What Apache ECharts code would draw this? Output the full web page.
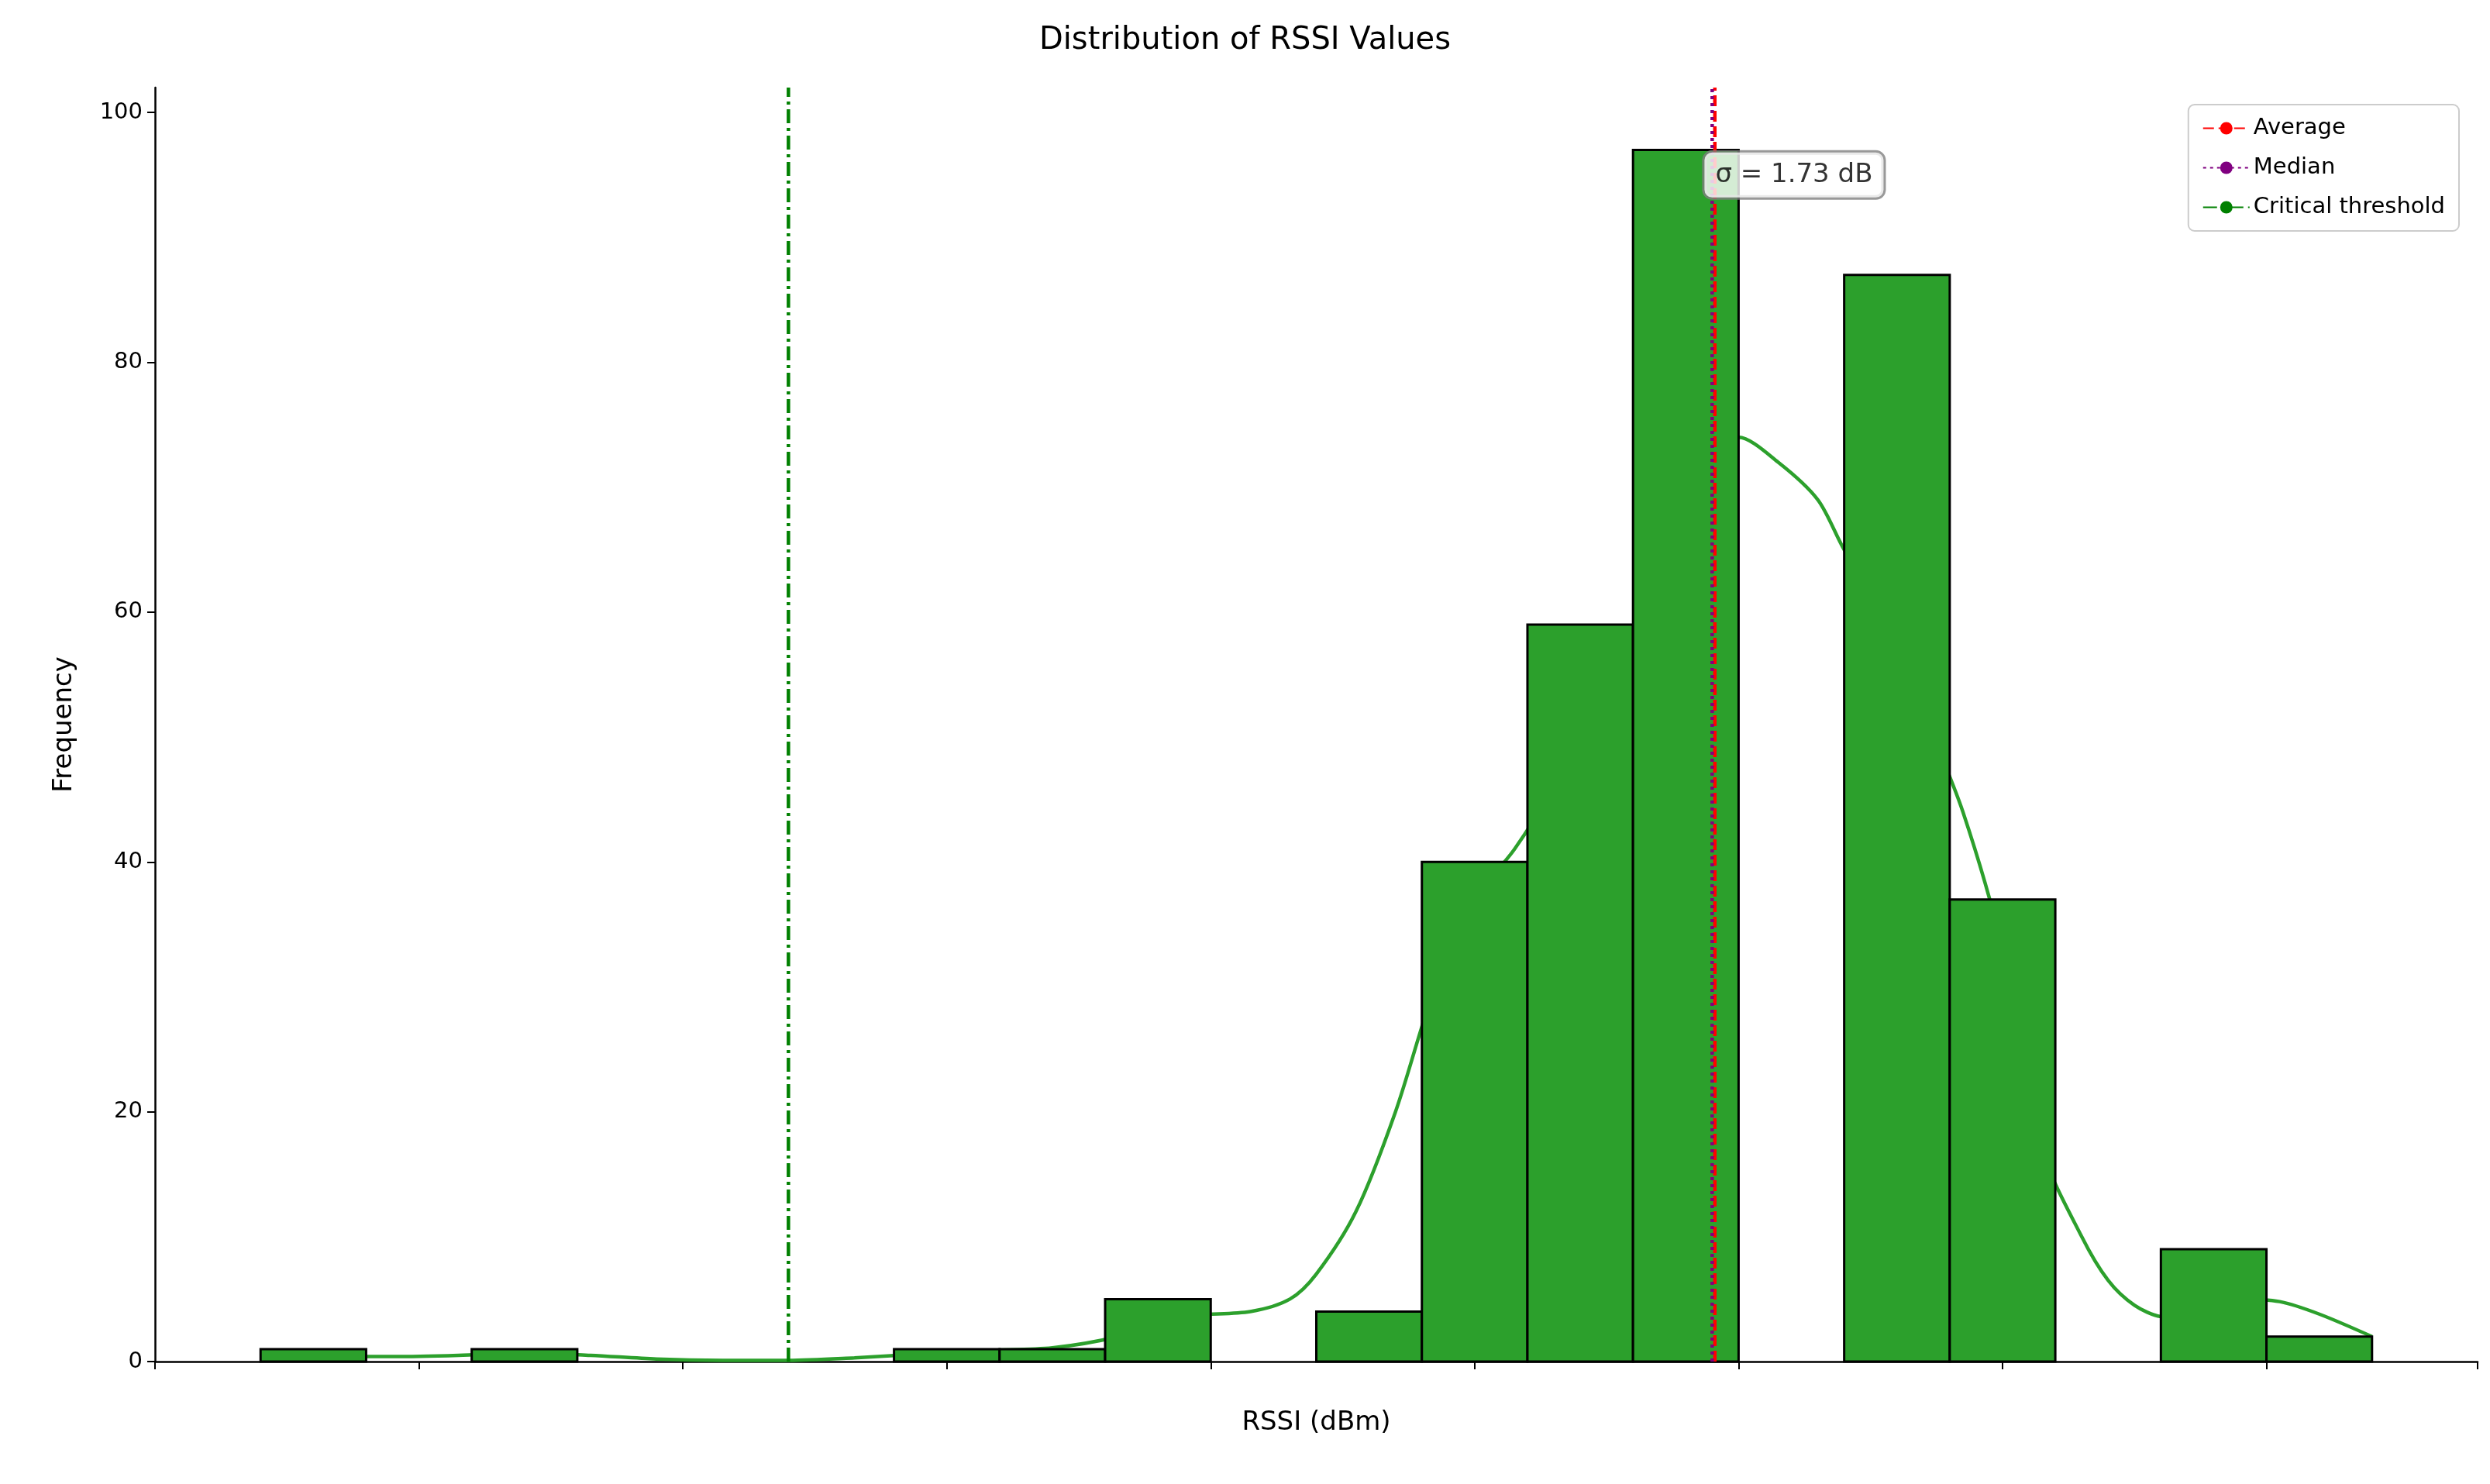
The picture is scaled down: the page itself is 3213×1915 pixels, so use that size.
<!DOCTYPE html>
<html><head><meta charset="utf-8">
<script src="https://cdn.jsdelivr.net/npm/echarts@6/dist/echarts.min.js"></script>
<style>html,body{margin:0;background:#fff}#c{width:3213px;height:1915px}</style>
</head><body><div id="c"></div>
<script>
// histogram bins (left edge, width 0.8)
const binStart = -104;
const binWidth = 0.8;
const counts = [1, 0, 1, 0, 0, 0, 1, 1, 5, 0, 4, 40, 59, 97, 0, 87, 37, 0, 9, 2];
// kde curve
const kdeX = [-104, -103.5, -103, -102.5, -102, -101.5, -101, -100.5, -100, -99.5, -99, -98.5, -98, -97.5, -97, -96.5, -96.2, -96, -95.7, -95.4, -95.1, -94.8, -94.5, -94.2, -93.9, -93.6, -93.3, -93, -92.8, -92.5, -92.2, -92, -91.7, -91.4, -91.1, -90.8, -90.5, -90.2, -90, -89.8, -89.6, -89.4, -89.2, -89, -88.7, -88.4, -88];
const kdeY = [0.5, 0.4, 0.4, 0.5, 0.7, 0.5, 0.2, 0.1, 0.1, 0.3, 0.6, 0.9, 1.1, 2.0, 3.6, 4.0, 5.0, 7.0, 12, 20, 30, 37, 41, 46, 52, 58, 66, 72, 74, 72, 69, 65, 60, 52, 44, 33, 17, 10, 6.5, 4.5, 3.6, 3.5, 4.2, 5.0, 4.8, 3.8, 2.0];
const meanVal = -92.98;
const medianVal = -93.0;
const threshold = -100;
const sigmaText = 'σ = 1.73 dB';

const bars = counts.map((c, i) => [binStart + i * binWidth, binStart + (i + 1) * binWidth, c]);
const font = 'DejaVu Sans';

const chart = echarts.init(document.getElementById('c'));
chart.setOption({
  animation: false,
  textStyle: { fontFamily: font },
  title: {
    text: 'Distribution of RSSI Values', left: 'center', top: 28,
    textStyle: { fontSize: 40, fontWeight: 'normal', color: '#000', fontFamily: font }
  },
  grid: { left: 200, right: 16, top: 113, bottom: 158 },
  xAxis: {
    type: 'value', min: -104.8, max: -87.2, interval: 2,
    name: 'RSSI (dBm)', nameLocation: 'middle', nameGap: 62,
    nameTextStyle: { fontSize: 34, color: '#000' },
    axisLine: { onZero: false, lineStyle: { color: '#000', width: 2.5 } },
    axisTick: { length: 10, lineStyle: { color: '#000', width: 2 } },
    axisLabel: {
      fontSize: 29, color: '#000', margin: 16,
      formatter: v => (Number.isInteger(v) && v % 2 === 0) ? String(v).replace('-', '−') : ''
    },
    splitLine: { show: false }
  },
  yAxis: {
    type: 'value', min: 0, max: 102, interval: 20,
    name: 'Frequency', nameLocation: 'middle', nameGap: 100,
    nameTextStyle: { fontSize: 34, color: '#000' },
    axisLine: { show: true, lineStyle: { color: '#000', width: 2.5 } },
    axisTick: { show: true, length: 10, lineStyle: { color: '#000', width: 2 } },
    axisLabel: { fontSize: 29, color: '#000', margin: 16, showMaxLabel: false,
      formatter: v => v % 20 === 0 ? v : '' },
    splitLine: { show: false }
  },
  legend: {
    right: 40, top: 135, orient: 'vertical', itemGap: 22, itemWidth: 60, itemHeight: 20,
    padding: [16, 18], borderColor: '#ccc', borderWidth: 2, borderRadius: 8, backgroundColor: '#fff',
    textStyle: { fontSize: 29, color: '#000' },
    data: ['Average', 'Median', 'Critical threshold']
  },
  series: [
    {
      type: 'line', data: kdeX.map((x, i) => [x, kdeY[i]]), smooth: 0.3, symbol: 'none', z: 1,
      lineStyle: { color: '#2ca02c', width: 4.5 }
    },
    {
      type: 'custom', z: 2, data: bars,
      renderItem: (params, api) => {
        const p0 = api.coord([api.value(0), 0]);
        const p1 = api.coord([api.value(1), api.value(2)]);
        if (api.value(2) === 0) return null;
        return { type: 'rect', shape: { x: p0[0], y: p1[1], width: p1[0] - p0[0], height: p0[1] - p1[1] },
          style: { fill: '#2ca02c', stroke: '#000', lineWidth: 3 } };
      },
      encode: { x: [0, 1], y: 2 }
    },
    { name: 'Average', type: 'line', data: [[meanVal, 0], [meanVal, 102]], symbol: 'none', z: 5,
      lineStyle: { color: '#ff0000', width: 4.5, type: [14, 6] }, itemStyle: { color: '#ff0000' } },
    { name: 'Median', type: 'line', data: [[medianVal, 0], [medianVal, 102]], symbol: 'none', z: 5,
      lineStyle: { color: '#800080', width: 4.5, type: [4, 5] }, itemStyle: { color: '#800080' } },
    { name: 'Critical threshold', type: 'line', data: [[threshold, 0], [threshold, 102]], symbol: 'none', z: 5,
      lineStyle: { color: '#008000', width: 4.5, type: [18, 6, 4, 6] }, itemStyle: { color: '#008000' } },
    {
      type: 'scatter', symbolSize: 0, z: 10, data: [[-92.38, 95]],
      label: {
        show: true, formatter: sigmaText, position: 'inside', fontSize: 34, color: '#000',
        backgroundColor: '#fff', borderColor: '#808080', borderWidth: 3, borderRadius: 10, padding: [12, 14]
      }
    }
  ]
});
</script></body></html>
